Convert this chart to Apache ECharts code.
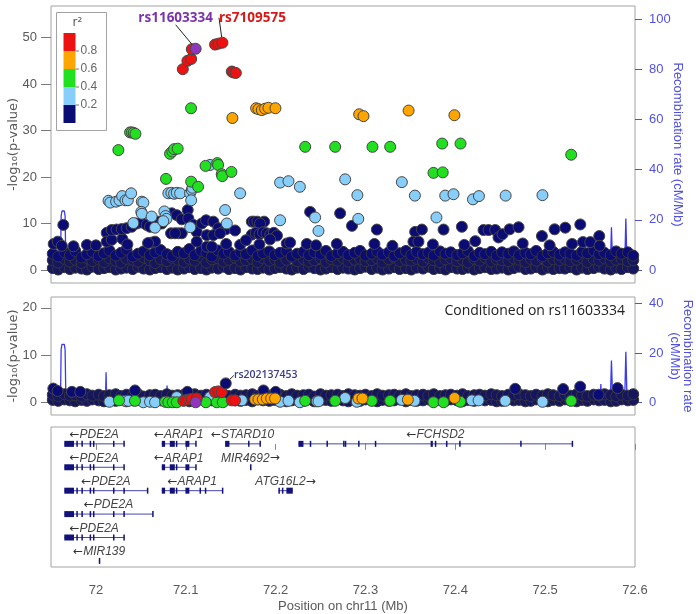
<!DOCTYPE html>
<html lang="en">
<head>
    <meta charset="UTF-8">
    <title>LocusZoom chr11</title>
    <style>
        html, body { margin: 0; padding: 0; background: #fff; }
    </style>
</head>
<body>
<div id="main" style="width: 696px;height: 614px"></div>
<script src="https://cdn.jsdelivr.net/npm/echarts@6/dist/echarts.min.js"></script>
<script>
    // x positions of the dense low-significance band (Mb)
    var bandPos = [71.952, 71.958, 71.965, 71.971, 71.977, 71.984, 71.990, 71.996, 72.003, 72.009,
        72.015, 72.022, 72.028, 72.034, 72.041, 72.047, 72.053, 72.060, 72.066, 72.072,
        72.079, 72.085, 72.091, 72.098, 72.104, 72.110, 72.117, 72.123, 72.129, 72.136,
        72.142, 72.148, 72.155, 72.161, 72.167, 72.174, 72.180, 72.186, 72.193, 72.199,
        72.205, 72.212, 72.218, 72.224, 72.231, 72.237, 72.243, 72.250, 72.256, 72.262,
        72.269, 72.275, 72.281, 72.288, 72.294, 72.300, 72.307, 72.313, 72.319, 72.326,
        72.332, 72.338, 72.345, 72.351, 72.357, 72.364, 72.370, 72.376, 72.383, 72.389,
        72.395, 72.402, 72.408, 72.414, 72.421, 72.427, 72.433, 72.440, 72.446, 72.452,
        72.459, 72.465, 72.471, 72.478, 72.484, 72.490, 72.497, 72.503, 72.509, 72.516,
        72.522, 72.528, 72.535, 72.541, 72.547, 72.554, 72.560, 72.566, 72.573, 72.579,
        72.585, 72.592, 72.598];

    // top panel, r2 < 0.2, -log10(p)
    var bandLow = [0.4, 0.1, 0.6, 0.2, 0.5, 0.3, 0.1, 0.7, 0.2, 0.4,
        0.6, 0.1, 0.3, 0.5, 0.2, 0.7, 0.3, 0.1, 0.4, 0.6,
        0.2, 0.5, 0.1, 0.3, 0.6, 0.2, 0.4, 0.1, 0.5, 0.3,
        0.7, 0.2, 0.4, 0.1, 0.6, 0.3, 0.2, 0.5, 0.1, 0.4,
        0.6, 0.3, 0.1, 0.5, 0.2, 0.7, 0.4, 0.1, 0.3, 0.6,
        0.2, 0.5, 0.3, 0.1, 0.4, 0.7, 0.2, 0.5, 0.1, 0.3,
        0.6, 0.2, 0.4, 0.1, 0.5, 0.3, 0.7, 0.2, 0.4, 0.1,
        0.6, 0.3, 0.2, 0.5, 0.1, 0.4, 0.6, 0.2, 0.3, 0.5,
        0.1, 0.4, 0.7, 0.2, 0.3, 0.6, 0.1, 0.5, 0.2, 0.4,
        0.3, 0.6, 0.1, 0.5, 0.2, 0.4, 0.7, 0.3, 0.1, 0.5,
        0.2, 0.6, 0.3];
    var bandMid = [2.1, 1.6, 2.4, 1.8, 2.2, 1.5, 2.6, 1.9, 2.3, 1.7,
        2.5, 2.0, 1.6, 2.4, 2.2, 1.8, 2.7, 2.1, 1.5, 2.3,
        1.9, 2.6, 2.2, 1.7, 2.4, 2.0, 2.8, 1.6, 2.3, 2.5,
        1.8, 2.2, 2.6, 1.9, 2.1, 2.4, 1.7, 2.5, 2.0, 2.3,
        1.6, 2.2, 2.7, 1.9, 2.4, 1.8, 2.1, 2.5, 1.7, 2.3,
        2.0, 2.6, 1.8, 2.2, 2.4, 1.9, 2.1, 2.5, 1.6, 2.3,
        2.7, 1.9, 2.2, 2.0, 2.4, 1.8, 2.6, 2.1, 1.7, 2.3,
        2.5, 1.9, 2.2, 1.6, 2.4, 2.0, 2.7, 1.8, 2.3, 2.1,
        1.9, 2.5, 2.2, 1.7, 2.4, 2.0, 2.6, 1.8, 2.3, 2.1,
        2.4, 1.9, 2.2, 2.6, 1.7, 2.3, 2.0, 2.5, 1.8, 2.2,
        2.4, 1.9, 2.1];
    var bandHigh = [3.5, 2.9, 3.8, 3.2, 4.1, 2.7, 3.4, 3.9, 3.0, 3.6,
        4.2, 3.1, 3.7, 4.4, 2.9, 3.5, 4.0, 3.2, 3.8, 4.3,
        3.4, 3.0, 3.9, 3.6, 4.5, 3.2, 4.1, 3.7, 2.9, 4.2,
        3.5, 3.9, 3.1, 3.8, 3.4, 4.2, 3.0, 3.6, 4.0, 3.2,
        3.7, 4.1, 2.9, 3.5, 3.9, 3.2, 3.8, 3.4, 4.1, 3.0,
        3.6, 3.9, 3.2, 3.7, 4.1, 3.1, 3.5, 4.0, 3.3, 3.8,
        3.0, 3.6, 4.1, 3.2, 3.9, 3.4, 3.7, 3.1, 4.0, 3.5,
        3.8, 3.2, 3.6, 4.1, 3.0, 3.7, 3.4, 3.9, 3.1, 3.8,
        3.5, 4.0, 3.2, 3.7, 3.4, 4.1, 3.0, 3.6, 3.9, 3.3,
        3.8, 3.5, 3.1, 3.9, 3.6, 4.2, 3.4, 3.7, 3.2, 4.0,
        3.5, 3.8, 3.1];

    var navyTop = [[71.953, 5.6], [71.9575, 6.1], [71.9637, 9.7], [71.962, 5.2], [71.975, 5.1], [71.99, 5.4], [72.0, 5.3],
        [72.012, 8.0], [72.012, 6.1], [72.0176, 6.5], [72.0294, 6.7], [72.0176, 8.6], [72.023, 8.7], [72.0287, 8.8], [72.0343, 9.0],
        [72.0398, 9.3], [72.0453, 10.0], [72.0509, 10.2], [72.0565, 9.7], [72.0602, 9.3], [72.0676, 9.7], [72.0695, 10.4], [72.0733, 10.0],
        [72.0621, 5.9], [72.0658, 6.1], [72.035, 5.5], [72.058, 5.8],
        [72.0844, 12.2], [72.09, 11.8], [72.0955, 10.9], [72.1022, 12.9], [72.1029, 11.1], [72.1085, 9.7], [72.1122, 8.2],
        [72.1178, 10.0], [72.1226, 10.7], [72.1307, 10.4], [72.1363, 9.0], [72.1445, 8.75], [72.1549, 8.5],
        [72.0918, 7.9], [72.0955, 7.9], [72.0836, 7.9], [72.0881, 7.9], [72.1122, 6.1], [72.1234, 7.5], [72.1307, 7.5],
        [72.1382, 7.9], [72.1234, 5.0], [72.129, 5.0], [72.145, 5.6], [72.1605, 5.4],
        [72.1735, 10.4], [72.176, 10.4], [72.1797, 10.4], [72.1872, 10.4], [72.1827, 10.0],
        [72.1735, 7.6], [72.178, 8.0], [72.182, 7.7], [72.186, 8.1], [72.19, 7.9], [72.194, 7.6], [72.198, 8.0], [72.2015, 7.4],
        [72.167, 6.4], [72.1938, 6.6], [72.182, 5.5],
        [72.2124, 5.7], [72.2161, 5.9], [72.2347, 5.6], [72.2681, 5.6], [72.245, 5.3],
        [72.2384, 12.5], [72.2718, 12.2], [72.285, 9.5], [72.3127, 8.7], [72.31, 5.6], [72.33, 5.2],
        [72.3553, 8.2], [72.3628, 8.7], [72.3534, 6.1], [72.359, 6.1], [72.375, 5.5],
        [72.3869, 8.7], [72.4073, 9.3], [72.41, 5.4], [72.4222, 6.2], [72.4314, 8.6], [72.437, 8.6], [72.4444, 8.6],
        [72.4481, 7.0], [72.4526, 7.7], [72.4604, 8.75], [72.4704, 9.2], [72.475, 5.7], [72.4964, 7.3], [72.505, 5.3],
        [72.5105, 8.75], [72.5224, 9.1], [72.5391, 9.8], [72.53, 5.6], [72.5421, 6.0], [72.5502, 6.0], [72.5602, 7.3], [72.5606, 5.2]];

    var blueTop = [[72.0140, 14.9], [72.0160, 14.5], [72.0225, 14.7], [72.0262, 15.0], [72.0292, 15.9], [72.0329, 15.0],
        [72.0355, 15.0], [72.0392, 16.5], [72.0510, 14.7], [72.0528, 14.5], [72.0505, 12.5], [72.0512, 12.1],
        [72.0620, 11.5], [72.0658, 9.1], [72.0417, 10.1], [72.0762, 12.6], [72.0775, 11.6], [72.0785, 11.0], [72.0750, 10.5],
        [72.0806, 16.5], [72.0840, 16.6], [72.0870, 16.4], [72.0900, 16.6], [72.0937, 16.5], [72.1048, 16.5], [72.1067, 17.2],
        [72.1075, 17.7], [72.1060, 15.0], [72.1050, 9.2], [72.1270, 22.6], [72.1605, 16.5], [72.1438, 12.9], [72.1457, 10.0],
        [72.2050, 18.8], [72.2143, 19.1], [72.2270, 17.9], [72.2050, 10.7], [72.2440, 11.3], [72.2477, 8.4], [72.2774, 19.5],
        [72.2910, 16.1], [72.2920, 11.0], [72.3405, 18.9], [72.3550, 16.0], [72.3790, 11.3], [72.3888, 16.0], [72.3980, 16.3],
        [72.4196, 15.2], [72.4263, 15.9], [72.4560, 16.0], [72.4970, 16.1]];

    var greenTop = [[72.1059, 34.8], [72.0380, 29.6], [72.0400, 29.6], [72.0420, 29.5], [72.0440, 29.3], [72.0250, 25.8],
        [72.0825, 25.0], [72.0850, 25.5], [72.0870, 26.0], [72.0910, 26.1], [72.0780, 19.6], [72.1060, 19.0], [72.1137, 17.9],
        [72.1220, 22.4], [72.1350, 23.0], [72.1360, 22.6], [72.1400, 20.6], [72.1406, 20.2], [72.1508, 21.1], [72.2329, 26.5],
        [72.2663, 26.5], [72.3078, 26.5], [72.3275, 26.5], [72.3854, 27.2], [72.4058, 27.2], [72.3757, 20.9], [72.3860, 21.0],
        [72.5290, 24.8]];

    var orangeTop = [[72.1519, 32.7], [72.1783, 34.8], [72.1809, 34.6], [72.1846, 34.4], [72.1883, 34.7], [72.1920, 34.9],
        [72.1998, 34.8], [72.2930, 33.5], [72.2978, 33.1], [72.3480, 34.3], [72.3990, 33.3]];

    var redTop = [[72.0967, 43.2], [72.1018, 45.0], [72.1060, 45.4], [72.1067, 47.5], [72.1326, 48.5], [72.1363, 48.7],
        [72.1512, 42.7], [72.1530, 42.5], [72.1557, 42.4]];

    var leadSnp = [72.1110, 47.6];        // rs11603334
    var topSnp = [72.1408, 48.9];         // rs7109575

    // conditioned panel
    var condLow = [0.5, 0.3, 0.6, 0.4, 0.2, 0.5, 0.3, 0.6, 0.4, 0.2,
        0.5, 0.3, 0.6, 0.2, 0.4, 0.5, 0.3, 0.6, 0.2, 0.4,
        0.5, 0.6, 0.3, 0.4, 0.2, 0.5, 0.6, 0.3, 0.4, 0.5,
        0.2, 0.6, 0.4, 0.3, 0.5, 0.2, 0.6, 0.4, 0.3, 0.5,
        0.6, 0.2, 0.4, 0.5, 0.3, 0.6, 0.2, 0.4, 0.5, 0.3,
        0.6, 0.4, 0.2, 0.5, 0.3, 0.6, 0.4, 0.2, 0.5, 0.3,
        0.4, 0.6, 0.2, 0.5, 0.3, 0.4, 0.6, 0.2, 0.5, 0.3,
        0.6, 0.4, 0.2, 0.5, 0.3, 0.6, 0.4, 0.5, 0.2, 0.3,
        0.6, 0.4, 0.5, 0.2, 0.3, 0.6, 0.4, 0.2, 0.5, 0.3,
        0.6, 0.4, 0.2, 0.5, 0.3, 0.6, 0.4, 0.5, 0.2, 0.3,
        0.6, 0.4, 0.5];
    var condHigh = [1.6, 1.3, 1.7, 1.4, 1.5, 1.2, 1.7, 1.4, 1.6, 1.3,
        1.5, 1.7, 1.3, 1.6, 1.4, 1.7, 1.2, 1.5, 1.6, 1.3,
        1.7, 1.4, 1.5, 1.6, 1.3, 1.7, 1.4, 1.6, 1.2, 1.5,
        1.7, 1.3, 1.6, 1.4, 1.5, 1.7, 1.3, 1.6, 1.4, 1.5,
        1.6, 1.3, 1.7, 1.4, 1.5, 1.6, 1.2, 1.7, 1.4, 1.5,
        1.6, 1.3, 1.7, 1.5, 1.4, 1.6, 1.3, 1.7, 1.4, 1.5,
        1.6, 1.4, 1.7, 1.3, 1.5, 1.6, 1.4, 1.7, 1.3, 1.5,
        1.6, 1.4, 1.7, 1.3, 1.5, 1.6, 1.4, 1.7, 1.5, 1.3,
        1.6, 1.4, 1.7, 1.5, 1.3, 1.6, 1.4, 1.7, 1.5, 1.3,
        1.6, 1.4, 1.7, 1.5, 1.3, 1.6, 1.4, 1.7, 1.5, 1.3,
        1.6, 1.4, 1.7];
    var navyCond = [[71.9526, 2.9], [71.9573, 2.4], [71.9733, 2.2], [71.9826, 2.2], [72.0435, 2.5], [72.1018, 2.2],
        [72.1865, 2.5], [72.2, 2.2], [72.4667, 2.85], [72.52, 2.8], [72.539, 3.3], [72.5806, 3.0], [72.5595, 1.6]];
    var condSnp = [72.1445, 4.0];         // rs202137453
    var blueCond = [[72.015, 0.1], [72.0324, 0.3], [72.036, 0.3], [72.0528, 0.0], [72.0602, 0.1], [72.0658, 0.0],
        [72.09, 1.1], [72.127, 1.1], [72.1624, 0.4], [72.205, 0.1], [72.2143, 0.3], [72.227, 0.0], [72.2459, 0.2],
        [72.2477, 0.2], [72.2774, 0.9], [72.2904, 0.1], [72.3405, 0.5], [72.3546, 0.3], [72.4185, 0.4], [72.4259, 0.4],
        [72.4556, 0.3], [72.4971, 0.1]];
    var greenCond = [[72.0257, 0.4], [72.0435, 0.3], [72.077, 0.1], [72.0806, 0.0], [72.0855, 0.0], [72.09, 0.0],
        [72.1223, 0.0], [72.1345, 0.0], [72.1412, 0.0], [72.2329, 0.3], [72.2663, 0.3], [72.3071, 0.3], [72.3275, 0.3],
        [72.3757, 0.0], [72.3869, 0.0], [72.4055, 0.1], [72.529, 0.3]];
    var orangeCond = [[72.1772, 0.6], [72.1809, 0.6], [72.1857, 0.6], [72.1902, 0.8], [72.195, 0.8], [72.1994, 0.8],
        [72.2922, 0.8], [72.2967, 0.8], [72.3472, 0.55], [72.3991, 0.9]];
    var redCond = [[72.0973, 0.3], [72.1005, 0.5], [72.1035, 0.6], [72.1065, 0.7], [72.1122, 0.8], [72.1326, 2.15],
        [72.1363, 2.3], [72.14, 2.15], [72.1512, 0.4], [72.1549, 0.4]];
    var leadCond = [72.1110, 0.0];

    // recombination rate (cM/Mb)
    var recomb = [[71.950, 3.0], [71.9515, 4.5], [71.953, 0.6], [71.9605, 0.6], [71.9613, 21.5], [71.9622, 23.5],
        [71.9648, 23.5], [71.9657, 21.5], [71.9666, 0.6], [71.985, 0.5], [72.0106, 0.5], [72.0113, 12.2], [72.012, 0.5],
        [72.045, 0.4], [72.0785, 0.4], [72.0792, 6.9], [72.0799, 0.4], [72.15, 0.3], [72.3, 0.3], [72.45, 0.3],
        [72.5613, 0.4], [72.562, 7.5], [72.5627, 0.4], [72.5725, 0.4], [72.5738, 17.0], [72.5752, 0.4],
        [72.5885, 0.4], [72.5898, 20.5], [72.5912, 0.4], [72.6, 1.5]];

    // genes
    var geneNames = ['PDE2A', 'ARAP1', 'STARD10', 'FCHSD2', 'PDE2A', 'ARAP1', 'MIR4692', 'PDE2A', 'ARAP1', 'ATG16L2',
        'PDE2A', 'PDE2A', 'MIR139'];
    var geneRows = [0, 0, 0, 0, 1, 1, 1, 2, 2, 2, 3, 4, 5];
    var geneStart = [71.9648, 72.0733, 72.1438, 72.2254, 71.9648, 72.0733, 72.1715, 71.9648, 72.0733, 72.2031,
        71.9648, 71.9648, 72.0032];
    var geneEnd = [72.0313, 72.1111, 72.1827, 72.5305, 72.0313, 72.1111, 72.1722, 72.0573, 72.1408, 72.2191,
        72.0632, 72.0313, 72.0039];
    var geneStrand = ['-', '-', '-', '-', '-', '-', '+', '-', '-', '+', '-', '-', '-'];
    var pdeExons = [[71.9648, 71.9756], [71.9782, 71.9790], [71.9838, 71.9846], [71.9930, 71.9938], [71.9967, 71.9975],
        [72.0190, 72.0198], [72.0305, 72.0313]];
    var arapExons = [[72.0733, 72.0770], [72.0822, 72.0878], [72.0890, 72.0905], [72.0996, 72.1040], [72.1105, 72.1111]];
    var geneExons = [
        pdeExons,
        arapExons,
        [[72.1438, 72.1486], [72.1693, 72.1700], [72.1820, 72.1827]],
        [[72.2254, 72.2310], [72.2380, 72.2388], [72.2566, 72.2574], [72.2751, 72.2759], [72.2770, 72.2778],
            [72.2918, 72.2926], [72.3104, 72.3112], [72.3725, 72.3750], [72.3772, 72.3780], [72.3896, 72.3904],
            [72.4043, 72.4051], [72.4722, 72.4730], [72.5295, 72.5305]],
        pdeExons,
        arapExons,
        [[72.1715, 72.1722]],
        [[71.9648, 71.9756], [71.9782, 71.9790], [71.9838, 71.9846], [71.9930, 71.9938], [71.9967, 71.9975],
            [72.0190, 72.0198], [72.0305, 72.0313], [72.0567, 72.0573]],
        [[72.0733, 72.0770], [72.0822, 72.0878], [72.0890, 72.0905], [72.0996, 72.1040], [72.1153, 72.1160],
            [72.1212, 72.1219], [72.1402, 72.1408]],
        [[72.2031, 72.2040], [72.2070, 72.2080], [72.2120, 72.2191]],
        [[71.9648, 71.9756], [71.9782, 71.9790], [71.9838, 71.9846], [71.9930, 71.9938], [71.9967, 71.9975],
            [72.0190, 72.0198], [72.0305, 72.0313], [72.0626, 72.0632]],
        pdeExons,
        [[72.0032, 72.0039]]
    ];

    var xTicks = [72, 72.1, 72.2, 72.3, 72.4, 72.5, 72.6];
    var ldColors = ['#ee1111', '#ffa500', '#20e020', '#87cefa', '#0b0b74'];
    var ldBreaks = ['0.8', '0.6', '0.4', '0.2'];
    var purple = '#8e36bd';

    function band(values) {
        var out = [];
        bandPos.forEach(function (p, i) {
            if (values[i] !== undefined) out.push([p, values[i]]);
        });
        return out;
    }

    var chart = echarts.init(document.getElementById('main'), null, {renderer: 'canvas'});

    function dots(name, data, color, xi, yi, z, border) {
        return {
            name: name, type: 'scatter', xAxisIndex: xi, yAxisIndex: yi, data: data,
            symbolSize: 11, z: z, silent: true,
            itemStyle: {color: color, borderColor: border || '#464646', borderWidth: 1, opacity: 1}
        };
    }

    var gridStyle = {
        show: true, borderColor: '#a3a3a3', borderWidth: 1, left: 51, right: 61,
        containLabel: false, outerBoundsMode: 'none'
    };
    var greyLabel = {color: '#595959', fontSize: 13, fontFamily: 'Liberation Sans'};
    var blueLabel = {color: '#5151e0', fontSize: 13, fontFamily: 'Liberation Sans'};
    var bandBorder = '#34343c';

    function xAxisHidden(gi) {
        return {type: 'value', gridIndex: gi, min: 71.95, max: 72.6, show: false, splitLine: {show: false}};
    }

    function yLeft(gi, min, max, ticks) {
        return {
            type: 'value', gridIndex: gi, min: min, max: max, position: 'left',
            name: '-log\u2081\u2080(p-value)', nameLocation: 'middle', nameRotate: 90, nameGap: 31,
            nameMoveOverlap: false,
            nameTextStyle: {color: '#595959', fontSize: 13, fontFamily: 'DejaVu Sans'},
            axisLine: {show: false}, splitLine: {show: false},
            axisTick: {show: true, length: 10, lineStyle: {color: '#7a7a7a'}, customValues: ticks},
            axisLabel: Object.assign({margin: 14, customValues: ticks}, greyLabel)
        };
    }

    function yRight(gi, min, max, ticks, name, gap) {
        return {
            type: 'value', gridIndex: gi, min: min, max: max, position: 'right',
            name: name, nameLocation: 'middle', nameRotate: -90, nameGap: gap,
            nameMoveOverlap: false,
            nameTextStyle: {color: '#5151e0', fontSize: 13, fontFamily: 'Liberation Sans', lineHeight: 13},
            axisLine: {show: false}, splitLine: {show: false},
            axisTick: {show: true, length: 7, lineStyle: {color: '#5151e0'}, customValues: ticks},
            axisLabel: Object.assign({margin: 14, customValues: ticks}, blueLabel)
        };
    }

    var geneData = geneStart.map(function (s, i) {
        return [s, geneEnd[i], geneRows[i], i];
    });

    var option = {
        animation: false,
        backgroundColor: '#fff',
        grid: [
            Object.assign({top: 6, height: 277}, gridStyle),
            Object.assign({top: 297, height: 118}, gridStyle),
            Object.assign({top: 427, height: 140}, gridStyle)
        ],
        xAxis: [
            xAxisHidden(0),
            xAxisHidden(1),
            {
                type: 'value', gridIndex: 2, min: 71.95, max: 72.6,
                name: 'Position on chr11 (Mb)', nameLocation: 'middle', nameGap: 33,
                nameMoveOverlap: false,
                nameTextStyle: {color: '#595959', fontSize: 13, fontFamily: 'Liberation Sans'},
                axisLine: {show: false}, splitLine: {show: false},
                axisTick: {show: true, length: 6, lineStyle: {color: '#888'}, customValues: xTicks},
                axisLabel: Object.assign({margin: 17, customValues: xTicks}, greyLabel)
            }
        ],
        yAxis: [
            yLeft(0, -2.8, 56.8, [0, 10, 20, 30, 40, 50]),
            yRight(0, -5.2, 105.2, [0, 20, 40, 60, 80, 100], 'Recombination rate (cM/Mb)', 36),
            yLeft(1, -2.7, 22.3, [0, 10, 20]),
            yRight(1, -5, 42.6, [0, 20, 40], 'Recombination rate\n(cM/Mb)', 33),
            {type: 'value', gridIndex: 2, min: -0.72, max: 5.26, inverse: true, show: false, splitLine: {show: false}}
        ],
        series: [
            {
                type: 'line', xAxisIndex: 0, yAxisIndex: 1, data: recomb, showSymbol: false, z: 1, silent: true,
                lineStyle: {color: '#3a3af2', width: 1.3}
            },
            dots('band-top-low', band(bandLow), '#16165e', 0, 0, 2, bandBorder),
            dots('band-top-mid', band(bandMid), '#16165e', 0, 0, 2, bandBorder),
            dots('band-top-high', band(bandHigh), ldColors[4], 0, 0, 2, bandBorder),
            dots('navy-top', navyTop, ldColors[4], 0, 0, 2),
            dots('blue-top', blueTop, ldColors[3], 0, 0, 3),
            dots('green-top', greenTop, ldColors[2], 0, 0, 4),
            dots('orange-top', orangeTop, ldColors[1], 0, 0, 5),
            dots('red-top', redTop, ldColors[0], 0, 0, 6),
            Object.assign(dots('rs7109575', [topSnp], ldColors[0], 0, 0, 7), {
                label: {
                    show: true, position: 'inside', formatter: 'rs7109575', color: '#d81818',
                    fontSize: 13.5, fontWeight: 'bold', fontFamily: 'Open Sans'
                },
                labelLayout: {dx: 30, dy: -25},
                labelLine: {show: true, lineStyle: {color: '#222', width: 1}}
            }),
            Object.assign(dots('rs11603334', [leadSnp], purple, 0, 0, 7), {
                label: {
                    show: true, position: 'inside', formatter: 'rs11603334', color: '#7a34a8',
                    fontSize: 13.5, fontWeight: 'bold', fontFamily: 'Open Sans'
                },
                labelLayout: {dx: -20, dy: -31},
                labelLine: {show: true, lineStyle: {color: '#222', width: 1}}
            }),

            {
                type: 'line', xAxisIndex: 1, yAxisIndex: 3, data: recomb, showSymbol: false, z: 1, silent: true,
                lineStyle: {color: '#3a3af2', width: 1.3}
            },
            dots('band-cond-low', band(condLow), '#16165e', 1, 2, 2, bandBorder),
            dots('band-cond-high', band(condHigh), '#16165e', 1, 2, 2, bandBorder),
            dots('navy-cond', navyCond, ldColors[4], 1, 2, 2),
            dots('blue-cond', blueCond, ldColors[3], 1, 2, 3),
            dots('green-cond', greenCond, ldColors[2], 1, 2, 4),
            dots('orange-cond', orangeCond, ldColors[1], 1, 2, 5),
            dots('red-cond', redCond, ldColors[0], 1, 2, 6),
            dots('lead-cond', [leadCond], purple, 1, 2, 7),
            Object.assign(dots('rs202137453', [condSnp], ldColors[4], 1, 2, 7), {
                label: {
                    show: true, position: 'inside', formatter: 'rs202137453', color: '#3a3a8c',
                    fontSize: 10.5, fontWeight: 600, fontFamily: 'Open Sans'
                },
                labelLayout: {dx: 40, dy: -8},
                labelLine: {show: true, lineStyle: {color: '#222', width: 1}}
            }),

            {
                type: 'custom', xAxisIndex: 2, yAxisIndex: 4, data: geneData, silent: true, z: 3,
                renderItem: function (params, api) {
                    var i = api.value(3);
                    var row = api.value(2);
                    var p0 = api.coord([api.value(0), row]);
                    var p1 = api.coord([api.value(1), row]);
                    var children = [{
                        type: 'line',
                        shape: {x1: p0[0], y1: p0[1], x2: p1[0], y2: p1[1]},
                        style: {stroke: '#4646b0', lineWidth: 1}
                    }];
                    geneExons[i].forEach(function (e) {
                        var a = api.coord([e[0], row]);
                        var b = api.coord([e[1], row]);
                        children.push({
                            type: 'rect',
                            shape: {x: a[0], y: a[1] - 3, width: Math.max(b[0] - a[0], 1.5), height: 6},
                            style: {fill: '#12127a'}
                        });
                    });
                    var txt = geneStrand[i] === '-' ? '{a|\u2190}' + geneNames[i] : geneNames[i] + '{a|\u2192}';
                    children.push({
                        type: 'text',
                        x: (p0[0] + p1[0]) / 2, y: p0[1] - 9,
                        style: {
                            text: txt, fill: '#444', fontSize: 12, fontStyle: 'italic',
                            fontFamily: 'Liberation Sans', align: 'center', verticalAlign: 'middle',
                            rich: {a: {fontFamily: 'DejaVu Sans', fontSize: 12, fill: '#333', fontStyle: 'normal'}}
                        }
                    });
                    return {type: 'group', children: children};
                }
            }
        ],
        graphic: [
            {
                type: 'text', right: 71, top: 304,
                style: {text: 'Conditioned on rs11603334', fill: '#222', fontSize: 14, fontFamily: 'Open Sans'}
            },
            {
                type: 'group', left: 56, top: 12,
                children: (function () {
                    var c = [{
                        type: 'rect', shape: {x: 0, y: 0, width: 50, height: 118},
                        style: {fill: '#fff', stroke: '#a3a3a3', lineWidth: 1}
                    }, {
                        type: 'text', x: 16, y: 4,
                        style: {text: 'r\u00b2', fill: '#595959', fontSize: 12, fontFamily: 'DejaVu Sans'}
                    }];
                    ldColors.forEach(function (col, k) {
                        c.push({type: 'rect', shape: {x: 7, y: 20.5 + k * 18, width: 12, height: 18}, style: {fill: col}});
                    });
                    ldBreaks.forEach(function (t, k) {
                        var yy = 38.5 + k * 18;
                        c.push({type: 'line', shape: {x1: 19, y1: yy, x2: 22.5, y2: yy}, style: {stroke: '#777', lineWidth: 1}});
                        c.push({
                            type: 'text', x: 24, y: yy - 6.5,
                            style: {text: t, fill: '#666', fontSize: 12, fontFamily: 'Liberation Sans'}
                        });
                    });
                    return c;
                })()
            }
        ]
    };

    chart.setOption(option);
</script>
</body>
</html>
